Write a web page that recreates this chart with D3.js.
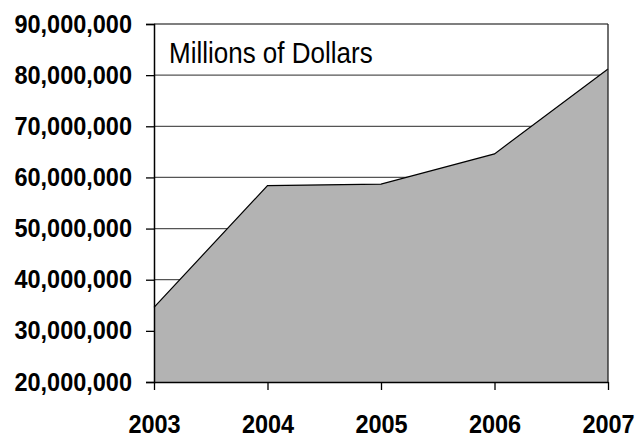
<!DOCTYPE html>
<html>
<head>
<meta charset="utf-8">
<script src="https://cdn.jsdelivr.net/npm/d3@7"></script>
<style>
  body { margin: 0; background: #fff; }
  svg { display: block; font-family: "Liberation Sans", Arial, sans-serif; }
</style>
</head>
<body>
<div id="chart"></div>
<script>
const years = ["2003", "2004", "2005", "2006", "2007"];
const values = [34600000, 58400000, 58700000, 64600000, 81200000];
const yTicks = [20000000, 30000000, 40000000, 50000000, 60000000, 70000000, 80000000, 90000000];
const title = "Millions of Dollars";

const width = 637;
const height = 437;
const margin = { top: 24, right: 29, bottom: 55, left: 154 };

const svg = d3
  .select("#chart")
  .append("svg")
  .attr("width", width)
  .attr("height", height);

const x = d3
  .scalePoint()
  .domain(years)
  .range([margin.left, width - margin.right]);

const y = d3
  .scaleLinear()
  .domain([20000000, 90000000])
  .range([height - margin.bottom, margin.top]);

// gridlines
svg
  .append("g")
  .selectAll("line")
  .data(yTicks.slice(1))
  .enter()
  .append("line")
  .attr("x1", margin.left)
  .attr("x2", width - margin.right)
  .attr("y1", (d) => y(d))
  .attr("y2", (d) => y(d))
  .attr("stroke", "#555")
  .attr("stroke-width", 1.3);

// area
const area = d3
  .area()
  .x((d, i) => x(years[i]))
  .y0(y(20000000))
  .y1((d) => y(d));

svg
  .append("path")
  .datum(values)
  .attr("d", area)
  .attr("fill", "#b3b3b3");

const line = d3
  .line()
  .x((d, i) => x(years[i]))
  .y((d) => y(d));

svg
  .append("path")
  .datum(values)
  .attr("d", line)
  .attr("fill", "none")
  .attr("stroke", "#000")
  .attr("stroke-width", 1.2);

// right border
svg
  .append("line")
  .attr("x1", width - margin.right)
  .attr("x2", width - margin.right)
  .attr("y1", margin.top)
  .attr("y2", height - margin.bottom)
  .attr("stroke", "#222")
  .attr("stroke-width", 1.3);

// y axis
const yAxis = svg
  .append("g")
  .attr("transform", `translate(${margin.left},0)`)
  .call(
    d3
      .axisLeft(y)
      .tickValues(yTicks)
      .tickSize(8)
      .tickPadding(14)
      .tickFormat(d3.format(","))
  );
yAxis.select(".domain").attr("stroke", "#000").attr("stroke-width", 1.5);
yAxis.selectAll(".tick line").attr("stroke", "#000").attr("stroke-width", 1.3);
yAxis
  .selectAll("text")
  .attr("font-size", 23.5)
  .attr("font-weight", "bold")
  .attr("fill", "#000")
  .attr("transform", "scale(1,1.07)");

// x axis
const xAxis = svg
  .append("g")
  .attr("transform", `translate(0,${height - margin.bottom})`)
  .call(d3.axisBottom(x).tickSize(8).tickSizeOuter(0));
xAxis.select(".domain").attr("stroke", "#000").attr("stroke-width", 1.5);
xAxis.selectAll(".tick line").attr("stroke", "#000").attr("stroke-width", 1.3);
xAxis
  .selectAll("text")
  .attr("y", 0)
  .attr("dy", null)
  .attr("font-size", 23.5)
  .attr("font-weight", "bold")
  .attr("fill", "#000")
  .attr("transform", "translate(0,51) scale(1,1.1)");

// title inside plot
svg
  .append("text")
  .attr("transform", `translate(${margin.left + 15},62.5) scale(1,1.12)`)
  .attr("font-size", 26)
  .attr("fill", "#000")
  .text(title);
</script>
</body>
</html>
